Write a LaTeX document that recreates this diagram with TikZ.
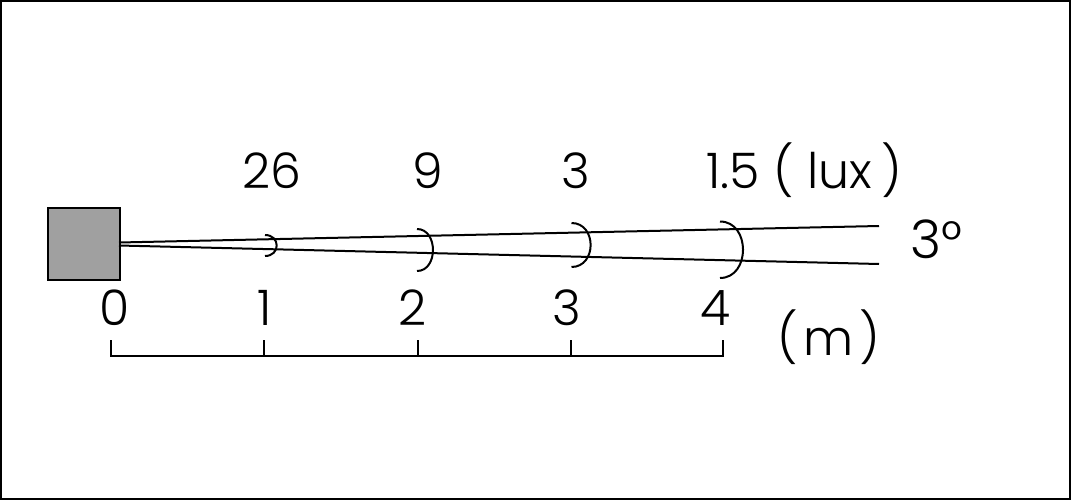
\documentclass[tikz,border=0pt]{standalone}
\usepackage{fontspec}
\setmainfont{Poppins Light}
\begin{document}
\begin{tikzpicture}[x=1pt,y=-1pt,
  ln/.style={line width=2pt,black},
  lbl/.style={anchor=base,inner sep=0pt,font=\fontsize{49}{55}\selectfont},
  lblw/.style={anchor=base west,inner sep=0pt,font=\fontsize{49}{55}\selectfont}]
\useasboundingbox (0,0) rectangle (1071,500);
\draw[line width=2pt] (1,1) rectangle (1070,499);
% source
\node[draw=black,line width=2pt,fill={rgb,255:red,160;green,160;blue,160},minimum width=72pt,minimum height=72pt,inner sep=0pt,anchor=north west] (src) at (47,207) {};
\coordinate (st) at (119,242.5);
\coordinate (sb) at (119,245.5);
\coordinate (et) at (879,226);
\coordinate (eb) at (879,264);
\draw[ln] (st) -- (et);
\draw[ln] (sb) -- (eb);
% arcs
\draw[ln] (265,235) .. controls (280.6,235) and (280.6,256) .. (265,256);
\draw[ln] (417,229) .. controls (438.3,229) and (438.3,271) .. (417,271);
\draw[ln] (571.5,223) .. controls (597,223) and (597,267) .. (571.5,267);
\draw[ln] (720,221.5) .. controls (750.7,221.5) and (750.7,278) .. (720,278);
% scale
\coordinate (t0) at (111,340);
\coordinate (t1) at (264,340);
\coordinate (t2) at (418,340);
\coordinate (t3) at (571,340);
\coordinate (t4) at (723,340);
\coordinate (b0) at (111,356);
\coordinate (b1) at (264,356);
\coordinate (b2) at (418,356);
\coordinate (b3) at (571,356);
\coordinate (b4) at (723,356);
\draw[ln] (t0) -- (b0) -- (b4) -- (t4);
\draw[ln] (t1) -- (b1);
\draw[ln] (t2) -- (b2);
\draw[ln] (t3) -- (b3);
% labels
\node[lbl] (n0) at (115,325) {0};
\node[lbl] (n1) at (265,325) {1};
\node[lbl] (n2) at (413,325) {2};
\node[lbl] (n3) at (567,325) {3};
\node[lbl] (n4) at (716,325) {4};
\node[lblw] (um) at (777,355) {(\hspace{6pt}m\hspace{6pt})};
\node[lbl] (l1) at (272,188) {26};
\node[lbl] (l2) at (428,188) {9};
\node[lbl] (l3) at (576,188) {3};
\node[lblw] (l4) at (706,188) {1.5 ( lux\hspace{10pt})};
\node[anchor=base west,inner sep=0pt,font=\fontsize{53}{60}\selectfont] (ang) at (910,258) {3°};
\end{tikzpicture}
\end{document}
